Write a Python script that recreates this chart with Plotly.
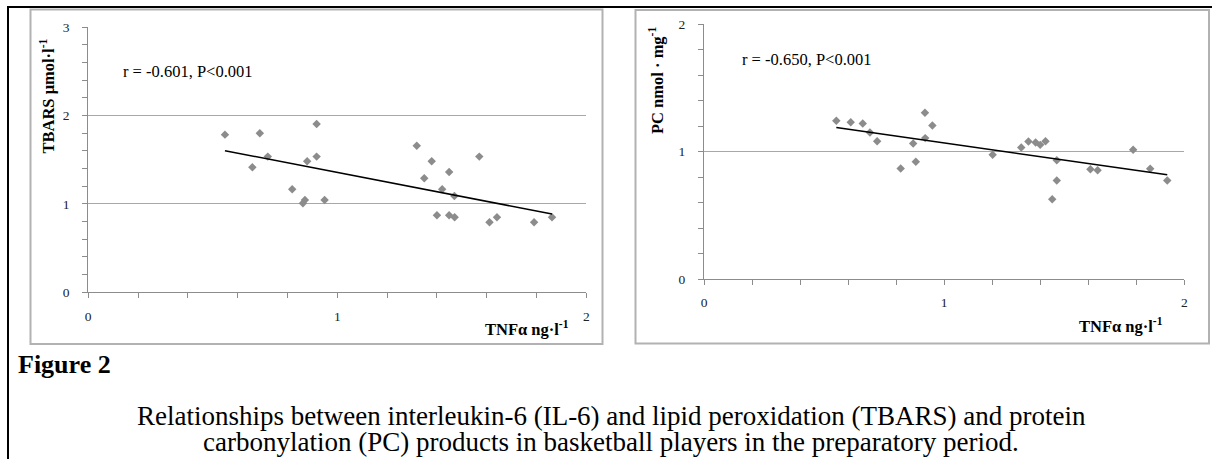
import numpy as np
import plotly.graph_objects as go

W, H = 1213, 459

# ---------------- data ----------------
tnf_tbars = [0.549, 0.659, 0.689, 0.721, 0.819, 0.862, 0.870, 0.879, 0.917, 0.917, 0.949,
             1.319, 1.349, 1.379, 1.400, 1.421, 1.449, 1.449, 1.470, 1.471, 1.570, 1.611,
             1.641, 1.790, 1.862]
tbars = [1.785, 1.415, 1.800, 1.536, 1.166, 1.008, 1.045, 1.483, 1.906, 1.536, 1.045,
         1.660, 1.291, 1.483, 0.872, 1.166, 1.362, 0.872, 1.091, 0.849, 1.536, 0.792,
         0.849, 0.792, 0.849]

tnf_pc = [0.551, 0.611, 0.661, 0.691, 0.721, 0.819, 0.871, 0.882, 0.920, 0.921, 0.951,
          1.202, 1.321, 1.351, 1.381, 1.400, 1.422, 1.450, 1.469, 1.469, 1.609, 1.639,
          1.787, 1.858, 1.929]
pc = [1.241, 1.230, 1.220, 1.149, 1.081, 0.866, 1.063, 0.919, 1.304, 1.105, 1.204,
      0.974, 1.031, 1.079, 1.071, 1.052, 1.081, 0.626, 0.932, 0.772, 0.861, 0.853,
      1.013, 0.864, 0.772]

stat_left = "r = -0.601, P<0.001"
stat_right = "r = -0.650, P<0.001"
ytitle_left = "<b>TBARS μmol·l<sup>-1</sup></b>"
ytitle_right = "<b>PC nmol · mg<sup>-1</sup></b>"
xtitle = "<b>TNFα ng·l<sup>-1</sup></b>"
fig_label = "<b>Figure 2</b>"
caption1 = "Relationships between interleukin-6 (IL-6) and lipid peroxidation (TBARS) and protein"
caption2 = "carbonylation (PC) products in basketball players in the preparatory period."


def px(x):
    return x / W


def py(y):
    return 1 - y / H


fig = go.Figure()

for xs, ys, xa, ya in [(tnf_tbars, tbars, "x", "y"), (tnf_pc, pc, "x2", "y2")]:
    fig.add_trace(go.Scatter(x=xs, y=ys, mode="markers", xaxis=xa, yaxis=ya,
                             marker=dict(symbol="diamond", size=6.5, color="#8c8c8c"),
                             showlegend=False))
    k, b = np.polyfit(xs, ys, 1)
    lx = np.array([min(xs), max(xs)])
    fig.add_trace(go.Scatter(x=lx, y=k * lx + b, mode="lines", xaxis=xa, yaxis=ya,
                             line=dict(color="#000000", width=1.5), showlegend=False))

tickfont = dict(family="Liberation Serif", size=13.5, color="#222222")
axcol = "#8c8c8c"


def xaxis_cfg(domain, anchor):
    return dict(domain=domain, anchor=anchor, range=[0, 2], dtick=1, tick0=0,
                showline=True, linecolor=axcol, linewidth=1, showgrid=False, zeroline=False,
                ticks="outside", ticklen=5, tickcolor=axcol, tickfont=tickfont,
                ticklabelstandoff=6, automargin=False,
                minor=dict(dtick=0.2, ticks="outside", ticklen=5, tickcolor=axcol, showgrid=False))


def yaxis_cfg(domain, anchor, top):
    return dict(domain=domain, anchor=anchor, range=[0, top], dtick=1, tick0=0,
                showline=True, linecolor=axcol, linewidth=1, showgrid=True,
                gridcolor="#a8a8a8", gridwidth=1, zeroline=False,
                ticks="outside", ticklen=5, tickcolor=axcol, tickfont=tickfont,
                ticklabelstandoff=10, automargin=False,
                minor=dict(dtick=0.2, ticks="outside", ticklen=5, tickcolor=axcol, showgrid=False))


fig.update_layout(
    width=W, height=H, margin=dict(l=0, r=0, t=0, b=0, pad=0), autosize=False,
    paper_bgcolor="white", plot_bgcolor="rgba(0,0,0,0)",
    xaxis=xaxis_cfg([px(88.2), px(586.4)], "y"),
    yaxis=yaxis_cfg([py(292.3), py(27.3)], "x", 3),
    xaxis2=xaxis_cfg([px(704), px(1184.3)], "y2"),
    yaxis2=yaxis_cfg([py(279), py(24)], "x2", 2),
)

shapes = [
    # chart boxes
    dict(type="rect", xref="paper", yref="paper", x0=px(30.5), x1=px(602.5), y0=py(344), y1=py(9.5),
         line=dict(color="#b2b2b2", width=2), layer="below"),
    dict(type="rect", xref="paper", yref="paper", x0=px(635.5), x1=px(1209), y0=py(343.5), y1=py(10),
         line=dict(color="#b2b2b2", width=2), layer="below"),
    # outer black frame (top and left)
    dict(type="line", xref="paper", yref="paper", x0=px(7), x1=px(1212), y0=py(7), y1=py(7),
         line=dict(color="#000000", width=2)),
    dict(type="line", xref="paper", yref="paper", x0=px(8), x1=px(8), y0=py(7), y1=py(459),
         line=dict(color="#000000", width=2)),
]
fig.update_layout(shapes=shapes)

serif = "Liberation Serif"
ann = [
    dict(text=stat_left, x=px(121), y=py(71.7), xanchor="left", yanchor="middle",
         font=dict(family=serif, size=16.5, color="#000")),
    dict(text=stat_right, x=px(740), y=py(59.3), xanchor="left", yanchor="middle",
         font=dict(family=serif, size=16.5, color="#000")),
    dict(text=ytitle_left, x=px(47.5), y=py(96), textangle=-90, xanchor="center", yanchor="middle",
         font=dict(family=serif, size=16.5, color="#000")),
    dict(text=ytitle_right, x=px(656), y=py(81), textangle=-90, xanchor="center", yanchor="middle",
         font=dict(family=serif, size=16.5, color="#000")),
    dict(text=xtitle, x=px(527), y=py(328), xanchor="center", yanchor="middle",
         font=dict(family=serif, size=16.5, color="#000")),
    dict(text=xtitle, x=px(1121), y=py(325), xanchor="center", yanchor="middle",
         font=dict(family=serif, size=16.5, color="#000")),
    dict(text=fig_label, x=px(16), y=py(364), xanchor="left", yanchor="middle",
         font=dict(family=serif, size=26, color="#000")),
    dict(text=caption1, x=px(611), y=py(416), xanchor="center", yanchor="middle",
         font=dict(family=serif, size=27, color="#000")),
    dict(text=caption2, x=px(611), y=py(442), xanchor="center", yanchor="middle",
         font=dict(family=serif, size=27, color="#000")),
]
for a in ann:
    a.update(xref="paper", yref="paper", showarrow=False)
fig.update_layout(annotations=ann)

fig.write_html("out.html", config={"displayModeBar": False},
               post_script="document.body.style.margin='0';document.body.style.overflow='hidden';")
